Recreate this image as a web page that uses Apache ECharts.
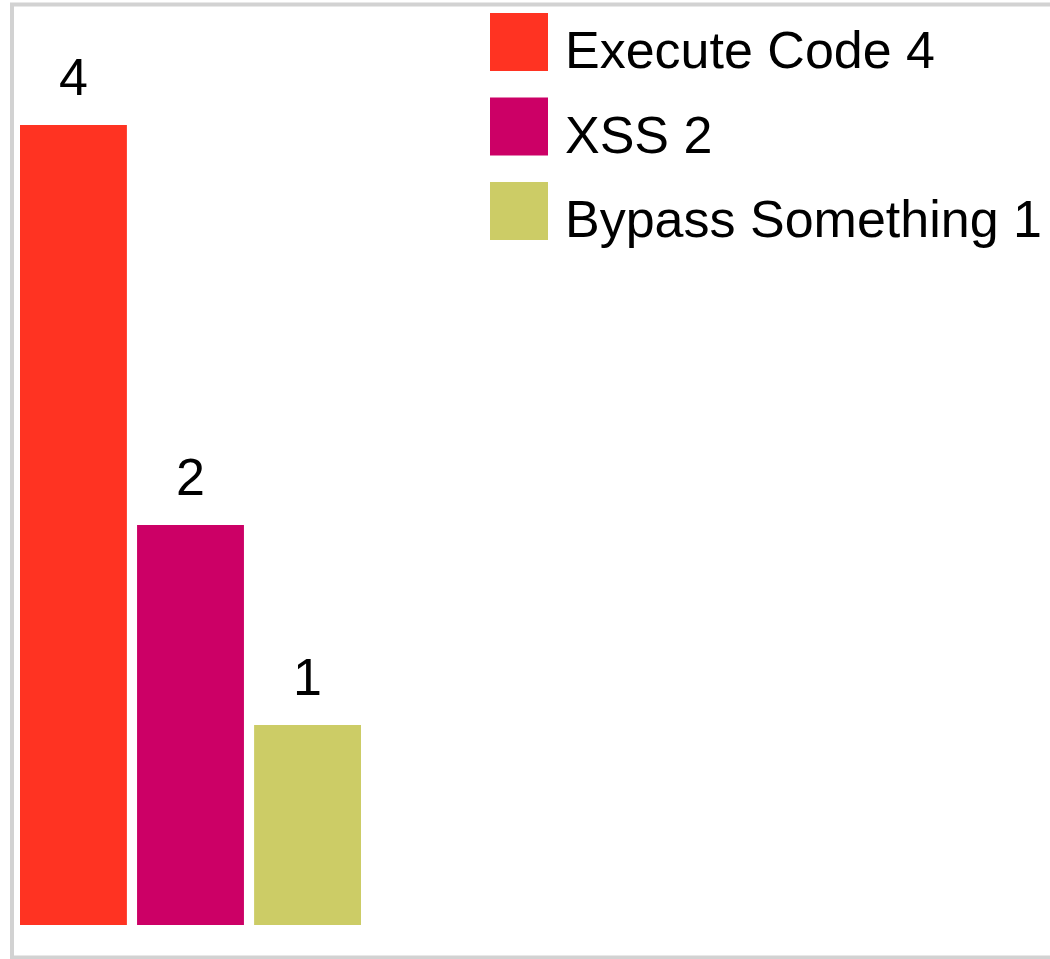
<!DOCTYPE html>
<html>
<head>
<meta charset="utf-8">
<style>
  html, body { margin: 0; padding: 0; background: #fff; }
  #chart { width: 1050px; height: 959px; }
</style>
<script src="https://cdn.jsdelivr.net/npm/echarts@6/dist/echarts.min.js"></script>
</head>
<body>
<div id="chart"></div>
<script>
// Vulnerability counts by type
const seriesNames = ['Execute Code', 'XSS', 'Bypass Something'];
const seriesValues = [4, 2, 1];
const seriesColors = ['#FF3322', '#CC0066', '#CCCC66'];
const categories = ['Vulnerabilities'];

const FONT = '"Liberation Sans", Arial, sans-serif';

const chart = echarts.init(document.getElementById('chart'), null, { renderer: 'canvas' });

const series = seriesNames.map((name, i) => ({
  name: name,
  type: 'bar',
  data: [seriesValues[i]],
  itemStyle: { color: seriesColors[i] },
  barGap: '9.5%',
  barCategoryGap: 0,
  label: {
    show: true,
    position: 'top',
    distance: 18,
    color: '#000',
    fontFamily: FONT,
    fontSize: 52
  },
  emphasis: { disabled: true },
  animation: false
}));

chart.setOption({
  animation: false,
  graphic: [{
    type: 'rect',
    shape: { x: 12, y: 4.5, width: 1100, height: 953 },
    style: { fill: 'none', stroke: '#d2d2d2', lineWidth: 4 },
    silent: true,
    z: 100
  }],
  legend: {
    orient: 'vertical',
    left: 485,
    top: 8,
    icon: 'rect',
    itemWidth: 58,
    itemHeight: 58,
    itemGap: 17.5,
    selectedMode: false,
    formatter: function (name) {
      return '{t|' + name + ' ' + seriesValues[seriesNames.indexOf(name)] + '}';
    },
    textStyle: {
      color: '#000',
      fontFamily: FONT,
      fontSize: 52,
      rich: {
        t: {
          color: '#000',
          fontFamily: FONT,
          fontSize: 52,
          padding: [24, 0, 0, 12]
        }
      }
    },
    data: seriesNames
  },
  grid: { left: 20, top: 125, width: 341, bottom: 34, containLabel: false },
  xAxis: {
    type: 'category',
    data: categories,
    show: false
  },
  yAxis: {
    type: 'value',
    min: 0,
    max: 4,
    show: false
  },
  series: series
});
</script>
</body>
</html>
